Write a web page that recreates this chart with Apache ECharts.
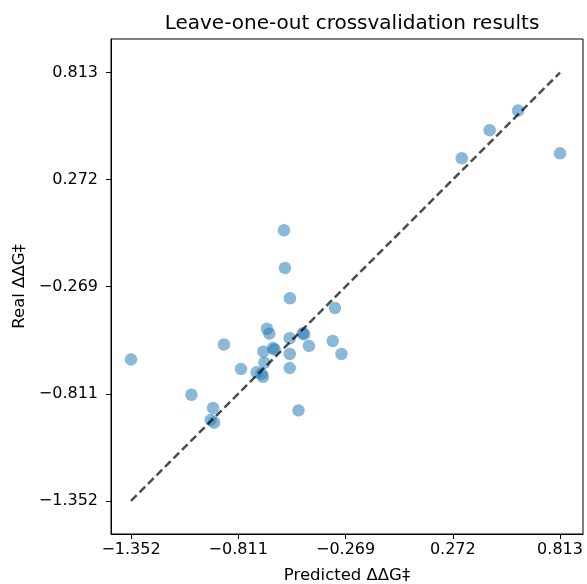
<!DOCTYPE html>
<html>
<head>
<meta charset="utf-8">
<script src="https://cdn.jsdelivr.net/npm/echarts@6/dist/echarts.min.js"></script>
<style>
  html, body { margin: 0; padding: 0; background: #fff; }
  #chart { width: 587px; height: 584px; }
</style>
</head>
<body>
<div id="chart"></div>
<script>
// leave-one-out results: predicted vs real
const predicted = [
  -1.352, -1.047, -0.938, -0.950, -0.933, -0.883, -0.797, -0.580, -0.575, -0.550,
  -0.323, -0.666, -0.654, -0.551, -0.485, -0.478, -0.334, -0.454, -0.684, -0.635,
  -0.628, -0.551, -0.290, -0.679, -0.551, -0.718, -0.693, -0.686, -0.507, 0.317,
  0.458, 0.601, 0.813
];
const real = [
  -0.637, -0.816, -0.883, -0.944, -0.957, -0.562, -0.686, 0.016, -0.175, -0.328,
  -0.377, -0.482, -0.507, -0.530, -0.505, -0.510, -0.544, -0.569, -0.598, -0.580,
  -0.587, -0.610, -0.610, -0.654, -0.681, -0.702, -0.711, -0.725, -0.895, 0.380,
  0.522, 0.621, 0.405
];
const tickValues = [-1.352, -0.811, -0.269, 0.272, 0.813];
const diagonal = [-1.352, 0.813];

const chart = echarts.init(document.getElementById('chart'));
const fmt = v => String(v).replace('-', '\u2212');
const font = 'DejaVu Sans';

const axisCommon = {
  type: 'value',
  nameLocation: 'middle',
  nameTextStyle: { fontFamily: font, fontSize: 16.5, color: '#000' },
  axisLine: { show: true, onZero: false, lineStyle: { color: '#000', width: 1 } },
  axisTick: { show: true, customValues: tickValues, length: 5, lineStyle: { color: '#000' } },
  axisLabel: { customValues: tickValues, formatter: fmt, fontFamily: font, fontSize: 16, color: '#000' },
  splitLine: { show: false }
};

chart.setOption({
  backgroundColor: '#fff',
  animation: false,
  title: {
    text: 'Leave-one-out crossvalidation results',
    left: 347, top: 9, textAlign: 'center',
    textStyle: { fontFamily: font, fontSize: 20, fontWeight: 'normal', color: '#000' }
  },
  grid: {
    left: 111, right: 4, top: 39, bottom: 50,
    outerBoundsMode: 'none', containLabel: false,
    show: true, borderColor: '#000', borderWidth: 1
  },
  xAxis: Object.assign({}, axisCommon, {
    name: 'Predicted \u0394\u0394G\u2021', nameGap: 33,
    min: -1.453, max: 0.929,
    axisLabel: Object.assign({}, axisCommon.axisLabel, { margin: 8 })
  }),
  yAxis: Object.assign({}, axisCommon, {
    name: 'Real \u0394\u0394G\u2021', nameGap: 83,
    min: -1.520, max: 0.983,
    axisLabel: Object.assign({}, axisCommon.axisLabel, { margin: 13 })
  }),
  series: [
    {
      type: 'scatter',
      symbolSize: 12.5,
      itemStyle: { color: 'rgba(31,119,180,0.65)' },
      data: predicted.map((p, i) => [p, real[i]]),
      z: 2
    },
    {
      type: 'line',
      showSymbol: false,
      lineStyle: { color: 'rgba(0,0,0,0.7)', width: 2.5, type: [8, 4] },
      data: diagonal.map(v => [v, v]),
      z: 3
    }
  ]
});
</script>
</body>
</html>
